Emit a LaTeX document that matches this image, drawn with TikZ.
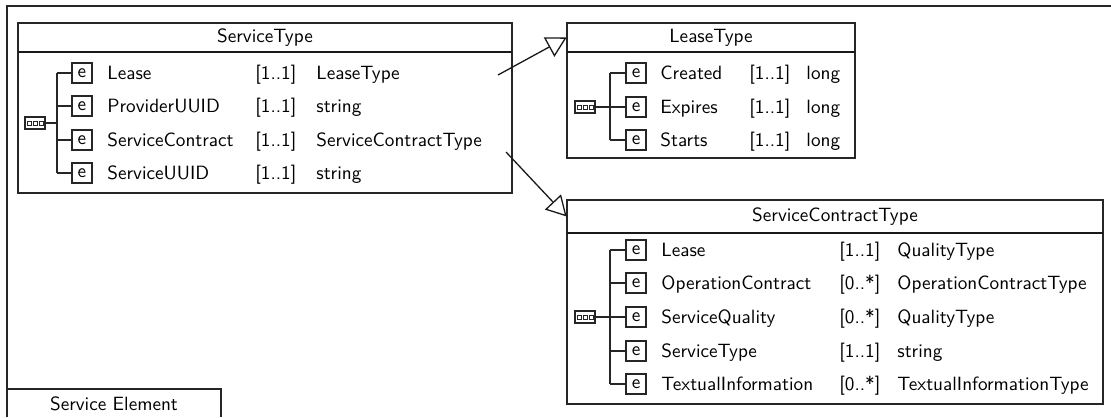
\documentclass[tikz,border=0pt]{standalone}
\usetikzlibrary{arrows.meta}
\begin{document}
\begin{tikzpicture}[x=0.5pt,y=-0.5pt,
  font=\fontsize{9.6}{11.5}\selectfont\sffamily,
  frame/.style={line width=1pt, draw=black!85},
  box/.style={line width=0.8pt, draw=black!85},
  sep/.style={line width=1.2pt, draw=black!90},
  tree/.style={line width=0.6pt, draw=black!85},
  ebox/.style={draw=black!85, line width=0.6pt, minimum width=10pt, minimum height=10pt, inner sep=0pt},
  lbl/.style={anchor=base west, inner sep=0pt},
  head/.style={inner sep=0pt},
  seqicon/.style={draw=black!85, line width=0.65pt, minimum width=10pt, minimum height=6pt, inner sep=0pt, fill=white,
    path picture={
      \foreach \dx in {-3,0,3}
        \draw[line width=0.45pt] ([xshift=\dx pt-1pt,yshift=-1pt]path picture bounding box.center) rectangle ++(2pt,2pt);
    }},
  gen/.style={line width=0.65pt, draw=black!90, -{Triangle[open, length=10pt, width=11pt, fill=white]}}
]
\useasboundingbox (0,0) rectangle (1111,417);

% diagram frame and its label tab
\draw[frame] (7,417) -- (7,6) -- (1111,6);
\draw[box] (7,417) -- (7,389) -- (221,389) -- (221,417);
\node[inner sep=0pt] (frame-label) at (114,404) {Service Element};

% ---------- ServiceType ----------
\draw[box] (18,23) rectangle (512,193);
\draw[sep] (18,52) -- (512,52);
\node[head, minimum width=247pt, minimum height=14.5pt] (st-head) at (265,37.5) {ServiceType};
\node[seqicon] (st-seq) at (35,123) {};
\coordinate (st-top) at (57,73);
\coordinate (st-bot) at (57,173);
\draw[tree] (st-top) -- (st-bot);
\draw[tree] (st-seq.east) -- (st-seq.east -| st-top);
\foreach \r/\nm/\mlt/\ty [count=\i] in {
  73/Lease/{[1..1]}/LeaseType,
  106/ProviderUUID/{[1..1]}/string,
  140/ServiceContract/{[1..1]}/ServiceContractType,
  173/ServiceUUID/{[1..1]}/string}{
  \node[ebox] (st-e\i) at (82,\r) {e};
  \draw[tree] (st-e\i.west -| st-top) -- (st-e\i.west);
  \node[lbl] (st-n\i) at (107,\r+6.5) {\nm};
  \node[lbl] (st-m\i) at (255,\r+6.5) {\mlt};
  \node[lbl] (st-t\i) at (316,\r+6.5) {\ty};
}
\coordinate (st-out1) at (498,75);
\coordinate (st-out2) at (506,152);

% ---------- LeaseType ----------
\draw[box] (567,23) rectangle (855,158);
\draw[sep] (567,52) -- (855,52);
\node[head, minimum width=144pt, minimum height=14.5pt] (lt-head) at (711,37.5) {LeaseType};
\node[seqicon] (lt-seq) at (585,107) {};
\coordinate (lt-top) at (610,73);
\coordinate (lt-bot) at (610,140);
\draw[tree] (lt-top) -- (lt-bot);
\draw[tree] (lt-seq.east) -- (lt-seq.east -| lt-top);
\foreach \r/\nm/\mlt/\ty [count=\i] in {
  73/Created/{[1..1]}/long,
  107/Expires/{[1..1]}/long,
  140/Starts/{[1..1]}/long}{
  \node[ebox] (lt-e\i) at (636,\r) {e};
  \draw[tree] (lt-e\i.west -| lt-top) -- (lt-e\i.west);
  \node[lbl] (lt-n\i) at (660,\r+6.5) {\nm};
  \node[lbl] (lt-m\i) at (749,\r+6.5) {\mlt};
  \node[lbl] (lt-t\i) at (806,\r+6.5) {\ty};
}

% ---------- ServiceContractType ----------
\draw[box] (567,200) rectangle (1103,404);
\draw[sep] (567,233) -- (1103,233);
\node[head, minimum width=268pt, minimum height=16.5pt] (sct-head) at (835,216.5) {ServiceContractType};
\node[seqicon] (sct-seq) at (585,317) {};
\coordinate (sct-top) at (610,250);
\coordinate (sct-bot) at (610,384);
\draw[tree] (sct-top) -- (sct-bot);
\draw[tree] (sct-seq.east) -- (sct-seq.east -| sct-top);
\foreach \r/\nm/\mlt/\ty [count=\i] in {
  250/Lease/{[1..1]}/QualityType,
  283/OperationContract/{[0..*]}/OperationContractType,
  317/ServiceQuality/{[0..*]}/QualityType,
  351/ServiceType/{[1..1]}/string,
  384/TextualInformation/{[0..*]}/TextualInformationType}{
  \node[ebox] (sct-e\i) at (636,\r) {e};
  \draw[tree] (sct-e\i.west -| sct-top) -- (sct-e\i.west);
  \node[lbl] (sct-n\i) at (661,\r+6.5) {\nm};
  \node[lbl] (sct-m\i) at (839,\r+6.5) {\mlt};
  \node[lbl] (sct-t\i) at (897,\r+6.5) {\ty};
}

% generalisation arrows
\draw[gen] (st-out1) -- (lt-head.west);
\draw[gen] (st-out2) -- (sct-head.west);
\end{tikzpicture}
\end{document}
